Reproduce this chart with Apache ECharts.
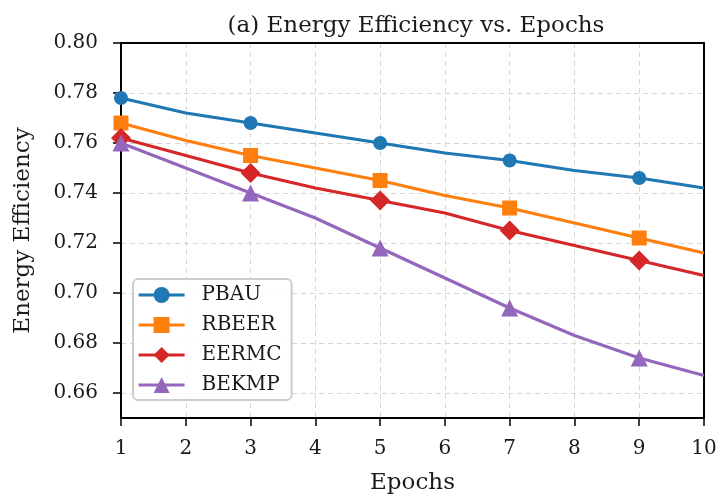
<!DOCTYPE html>
<html>
<head>
<meta charset="utf-8">
<script src="https://cdn.jsdelivr.net/npm/echarts@6/dist/echarts.min.js"></script>
<style>
  html, body { margin: 0; padding: 0; background: #fff; }
  #chart { width: 718px; height: 496px; }
</style>
</head>
<body>
<div id="chart"></div>
<script>
// epochs and efficiency
var epochs = [1, 2, 3, 4, 5, 6, 7, 8, 9, 10];
var pbau  = [0.778, 0.772, 0.768, 0.764, 0.760, 0.756, 0.753, 0.749, 0.746, 0.742];
var rbeer = [0.768, 0.761, 0.755, 0.750, 0.745, 0.739, 0.734, 0.728, 0.722, 0.716];
var eermc = [0.762, 0.755, 0.748, 0.742, 0.737, 0.732, 0.725, 0.719, 0.713, 0.707];
var bekmp = [0.760, 0.750, 0.740, 0.730, 0.718, 0.706, 0.694, 0.683, 0.674, 0.667];
var yTicks = [0.66, 0.68, 0.70, 0.72, 0.74, 0.76, 0.78, 0.80];

var font = 'DejaVu Serif';
var ink = '#1a1a1a';
var gridLine = { show: true, lineStyle: { color: '#d6d6d6', type: [5, 4], width: 1 } };

function makeSeries(name, values, color, symbol, size) {
    return {
        name: name,
        type: 'line',
        color: color,
        symbol: symbol,
        symbolSize: size,
        lineStyle: { width: 3.2, color: color },
        itemStyle: { color: color },
        // markers only every other epoch
        data: values.map(function (v, i) {
            var item = { value: [epochs[i], v] };
            if (i % 2 === 1) item.symbol = 'none';
            return item;
        }),
        z: 3
    };
}

var chart = echarts.init(document.getElementById('chart'));
chart.setOption({
    animation: false,
    backgroundColor: '#fff',
    textStyle: { fontFamily: font },
    title: {
        text: '(a) Energy Efficiency vs. Epochs',
        left: 411,
        textAlign: 'center',
        top: 10,
        textStyle: { fontFamily: font, fontSize: 23, fontWeight: 'normal', color: ink }
    },
    grid: { left: 121, right: 14, top: 43, bottom: 78, outerBoundsMode: 'none', containLabel: false },
    legend: {
        orient: 'vertical',
        left: 133, top: 279,
        itemWidth: 46, itemHeight: 20, itemGap: 10,
        padding: [6, 10, 5, 4],
        borderColor: '#cccccc', borderWidth: 2, borderRadius: 5,
        backgroundColor: 'rgba(255,255,255,0.85)',
        lineStyle: { width: 3.2 },
        textStyle: { fontFamily: font, fontSize: 20, color: ink, padding: [0, 0, 0, 12] },
        data: ['PBAU', 'RBEER', 'EERMC', 'BEKMP']
    },
    xAxis: [{
        type: 'value',
        min: 1, max: 10, interval: 1,
        name: 'Epochs',
        nameLocation: 'middle',
        nameGap: 54,
        nameTextStyle: { fontFamily: font, fontSize: 23, color: ink },
        axisLine: { show: true, lineStyle: { color: '#000', width: 2 } },
        axisTick: { show: true, length: 8, lineStyle: { color: '#000', width: 1.5 } },
        axisLabel: { fontFamily: font, fontSize: 20, color: ink, margin: 21 },
        splitLine: gridLine
    }, {
        type: 'value', position: 'top', min: 1, max: 10,
        axisLine: { show: true, onZero: false, lineStyle: { color: '#000', width: 2 } },
        axisTick: { show: false }, axisLabel: { show: false }, splitLine: { show: false }
    }],
    yAxis: [{
        type: 'value',
        min: 0.65, max: 0.80,
        name: 'Energy Efficiency',
        nameLocation: 'middle',
        nameGap: 86,
        nameTextStyle: { fontFamily: font, fontSize: 23, color: ink },
        axisLine: { show: true, lineStyle: { color: '#000', width: 2 } },
        axisTick: { show: true, length: 8, customValues: yTicks, lineStyle: { color: '#000', width: 1.5 } },
        axisLabel: {
            fontFamily: font, fontSize: 20, color: ink, margin: 23,
            customValues: yTicks,
            formatter: function (v) { return v.toFixed(2); }
        },
        splitLine: gridLine
    }, {
        type: 'value', position: 'right', min: 0.65, max: 0.80,
        axisLine: { show: true, onZero: false, lineStyle: { color: '#000', width: 2 } },
        axisTick: { show: false }, axisLabel: { show: false }, splitLine: { show: false }
    }],
    series: [
        makeSeries('PBAU', pbau, '#1f77b4', 'circle', 14),
        makeSeries('RBEER', rbeer, '#ff7f0e', 'rect', 15),
        makeSeries('EERMC', eermc, '#d62728', 'diamond', 20),
        makeSeries('BEKMP', bekmp, '#9467bd', 'triangle', 17)
    ]
});
</script>
</body>
</html>
